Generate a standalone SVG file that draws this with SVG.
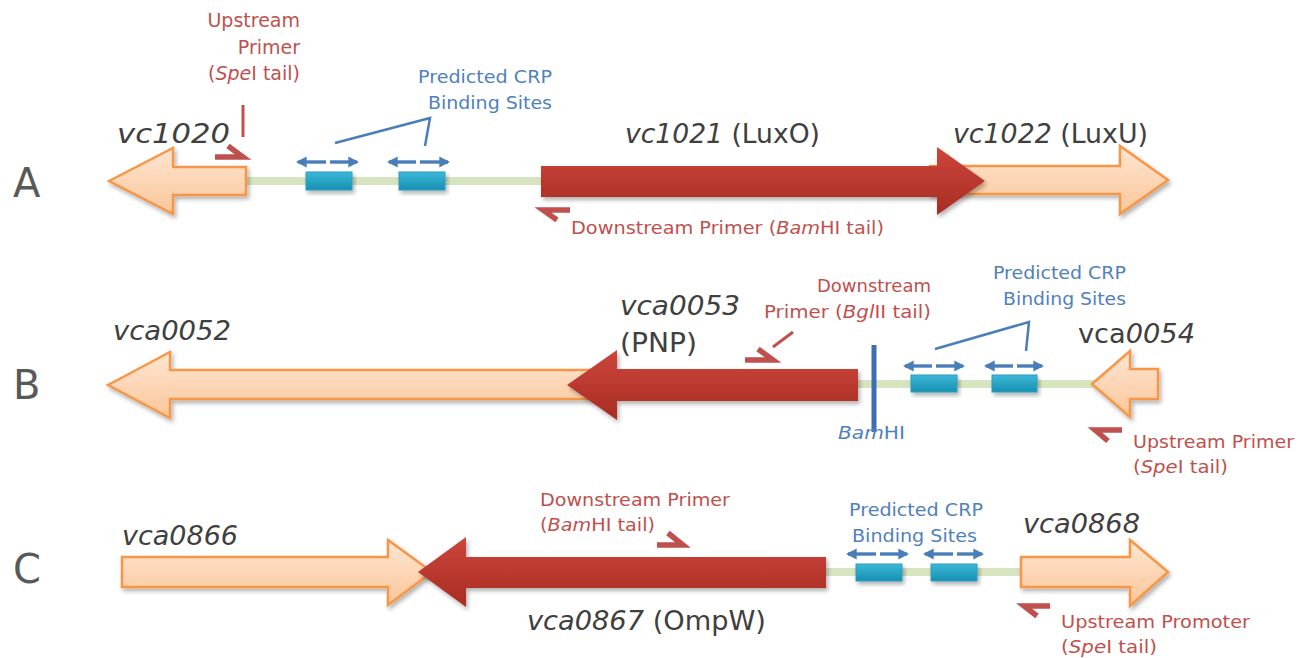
<svg xmlns="http://www.w3.org/2000/svg" width="1308" height="658" viewBox="0 0 1308 658">
<defs>
<linearGradient id="gOr" x1="0" y1="0" x2="0" y2="1"><stop offset="0" stop-color="#fee6d2"/><stop offset="1" stop-color="#fbc699"/></linearGradient>
<linearGradient id="gRed" x1="0" y1="0" x2="0" y2="1"><stop offset="0" stop-color="#cc463b"/><stop offset="1" stop-color="#a82c23"/></linearGradient>
<linearGradient id="gBox" x1="0" y1="0" x2="0" y2="1"><stop offset="0" stop-color="#3cb8d8"/><stop offset="1" stop-color="#178fb1"/></linearGradient>
<filter id="sh" x="-10%" y="-30%" width="120%" height="160%"><feDropShadow dx="2" dy="3" stdDeviation="2" flood-color="#000" flood-opacity="0.3"/></filter>
<marker id="ah" viewBox="0 0 10 10" refX="8" refY="5" markerWidth="3.2" markerHeight="3.6" orient="auto-start-reverse"><path d="M0,0 L10,5 L0,10 Z" fill="#4a7ebb"/></marker>
</defs>
<style>
.or{fill:url(#gOr);stroke:#f79646;stroke-width:2.5;filter:url(#sh)}
.red{fill:url(#gRed);filter:url(#sh)}
.box{fill:url(#gBox);stroke:#2a9ec0;stroke-width:1;filter:url(#sh)}
.dna{stroke:#d6e4bf;stroke-width:8;fill:none}
.dbl{stroke:#4a7ebb;stroke-width:3.4;fill:none;marker-end:url(#ah)}
.call{stroke:#4a7ebb;stroke-width:2.5;fill:none}
.hook{stroke:#c0504d;stroke-width:5.5;fill:none;stroke-linejoin:miter}
.rl{stroke:#c0504d;stroke-width:3;fill:none}
text{font-family:"DejaVu Sans","Liberation Sans",sans-serif}
.lt{font-size:40px;fill:#595959}
.gn{font-size:26px;fill:#404040}
.it{font-style:italic}
.rt{font-size:18px;fill:#c0504d}
.rt19{font-size:19px;fill:#c0504d}
.bt{font-size:18px;fill:#4f81bd}
</style>
<rect width="1308" height="658" fill="#fff"/>

<g id="letters">
<text class="lt" x="13" y="197">A</text>
<text class="lt" x="13" y="399">B</text>
<text class="lt" x="13" y="583">C</text>
</g>

<g id="connectors">
<line class="dna" x1="246" y1="181" x2="545" y2="181"/>
<line class="dna" x1="855" y1="384" x2="1095" y2="384"/>
<line class="dna" x1="822" y1="572" x2="1023" y2="572"/>
<polyline class="call" points="335,143 430,118 425,146"/>
<polyline class="call" points="935,349 1029,322 1026,351"/>
<line class="dbl" x1="326" y1="162" x2="298" y2="162"/>
<line class="dbl" x1="330" y1="162" x2="357" y2="162"/>
<line class="dbl" x1="416" y1="162" x2="389" y2="162"/>
<line class="dbl" x1="420" y1="162" x2="448" y2="162"/>
<line class="dbl" x1="932" y1="366" x2="905" y2="366"/>
<line class="dbl" x1="936" y1="366" x2="963" y2="366"/>
<line class="dbl" x1="1013" y1="366" x2="986" y2="366"/>
<line class="dbl" x1="1017" y1="366" x2="1042" y2="366"/>
<line class="dbl" x1="876" y1="554" x2="848" y2="554"/>
<line class="dbl" x1="880" y1="554" x2="907" y2="554"/>
<line class="dbl" x1="953" y1="554" x2="925" y2="554"/>
<line class="dbl" x1="957" y1="554" x2="982" y2="554"/>
<line class="rl" x1="243" y1="105" x2="243" y2="137"/>
<path class="hook" d="M215,157 L243,157 L228,146"/>
<path class="hook" d="M570,210 L543,210 L557,220"/>
<line class="rl" x1="793" y1="332" x2="773" y2="347"/>
<path class="hook" d="M745,360 L773,360 L758,349"/>
<path class="hook" d="M1122,430 L1095,430 L1108,441"/>
<path class="hook" d="M657,545 L683,545 L668,533"/>
<path class="hook" d="M1050,606 L1024,606 L1037,616"/>
<line x1="874" y1="345" x2="874" y2="432" stroke="#3f6fb0" stroke-width="5"/>
</g>

<g id="vc1020"><path class="or" d="M109,181 L173,148 L173,167 L246,167 L246,195 L173,195 L173,214 Z"/></g>
<g id="vc1022"><path class="or" d="M930,166 L1120,166 L1120,146 L1168,180 L1120,214 L1120,194 L930,194 Z"/></g>
<g id="vc1021"><path class="red" d="M541,166 L937,166 L937,147 L985,181 L937,215 L937,197 L541,197 Z"/></g>
<g id="crpA1"><rect class="box" x="306" y="172" width="46" height="18"/></g>
<g id="crpA2"><rect class="box" x="399" y="172" width="46" height="18"/></g>

<g id="vca0052"><path class="or" d="M108,385 L170,352 L170,370 L600,370 L600,399 L170,399 L170,418 Z"/></g>
<g id="vca0053"><path class="red" d="M567,385 L617,350 L617,369 L858,369 L858,401 L617,401 L617,420 Z"/></g>
<g id="vca0054"><path class="or" d="M1092,384 L1130,351 L1130,369 L1158,369 L1158,399 L1130,399 L1130,417 Z"/></g>
<g id="crpB1"><rect class="box" x="911" y="375" width="46" height="17"/></g>
<g id="crpB2"><rect class="box" x="992" y="375" width="45" height="17"/></g>

<g id="vca0866"><path class="or" d="M122,557 L388,557 L388,540 L432,572 L388,605 L388,587 L122,587 Z"/></g>
<g id="vca0867"><path class="red" d="M418,572 L466,537 L466,557 L826,557 L826,588 L466,588 L466,607 Z"/></g>
<g id="vca0868"><path class="or" d="M1021,557 L1130,557 L1130,540 L1168,572 L1130,606 L1130,587 L1021,587 Z"/></g>
<g id="crpC1"><rect class="box" x="856" y="564" width="46" height="17"/></g>
<g id="crpC2"><rect class="box" x="931" y="564" width="46" height="17"/></g>

<g id="labels">
<text class="rt19" text-anchor="end"><tspan x="300" y="27">Upstream</tspan><tspan x="300" y="54">Primer</tspan><tspan x="300" y="80">(<tspan class="it">Spe</tspan>I tail)</tspan></text>
<text class="bt" x="418" y="83" textLength="134" lengthAdjust="spacingAndGlyphs">Predicted  CRP</text>
<text class="bt" x="428" y="109" textLength="124" lengthAdjust="spacingAndGlyphs">Binding  Sites</text>
<text class="gn it" x="117" y="143" textLength="113" lengthAdjust="spacingAndGlyphs">vc1020</text>
<text class="gn" x="625" y="143" textLength="195" lengthAdjust="spacingAndGlyphs"><tspan class="it">vc1021</tspan> (LuxO)</text>
<text class="gn" x="953" y="143" textLength="195" lengthAdjust="spacingAndGlyphs"><tspan class="it">vc1022</tspan> (LuxU)</text>
<text class="rt" x="571" y="234" textLength="313" lengthAdjust="spacingAndGlyphs">Downstream Primer (<tspan class="it">Bam</tspan>HI tail)</text>

<text class="gn it" x="113" y="340" textLength="118" lengthAdjust="spacingAndGlyphs">vca0052</text>
<text class="gn it" x="620" y="315" textLength="120" lengthAdjust="spacingAndGlyphs">vca0053</text>
<text class="gn" x="620" y="352" textLength="77" lengthAdjust="spacingAndGlyphs">(PNP)</text>
<text class="rt" x="931" y="292" text-anchor="end">Downstream</text>
<text class="rt" x="764" y="318" textLength="167" lengthAdjust="spacingAndGlyphs">Primer (<tspan class="it">Bgl</tspan>II tail)</text>
<text class="bt" x="993" y="279" textLength="133" lengthAdjust="spacingAndGlyphs">Predicted  CRP</text>
<text class="bt" x="1003" y="305" textLength="123" lengthAdjust="spacingAndGlyphs">Binding  Sites</text>
<text class="gn" x="1078" y="343" textLength="117" lengthAdjust="spacingAndGlyphs">vca<tspan class="it">0054</tspan></text>
<text class="bt" x="838" y="439" font-size="17" textLength="67" lengthAdjust="spacingAndGlyphs"><tspan class="it">Bam</tspan>HI</text>
<text class="rt" x="1133" y="448" textLength="161" lengthAdjust="spacingAndGlyphs">Upstream Primer</text>
<text class="rt" x="1133" y="473" textLength="95" lengthAdjust="spacingAndGlyphs">(<tspan class="it">Spe</tspan>I tail)</text>

<text class="gn it" x="122" y="545" textLength="116" lengthAdjust="spacingAndGlyphs">vca0866</text>
<text class="rt" x="540" y="506" textLength="190" lengthAdjust="spacingAndGlyphs">Downstream Primer</text>
<text class="rt" x="540" y="531" textLength="115" lengthAdjust="spacingAndGlyphs">(<tspan class="it">Bam</tspan>HI tail)</text>
<text class="bt" x="849" y="516" textLength="134" lengthAdjust="spacingAndGlyphs">Predicted  CRP</text>
<text class="bt" x="852" y="542" textLength="125" lengthAdjust="spacingAndGlyphs">Binding  Sites</text>
<text class="gn it" x="1023" y="533" textLength="117" lengthAdjust="spacingAndGlyphs">vca0868</text>
<text class="gn" x="527" y="630" textLength="239" lengthAdjust="spacingAndGlyphs"><tspan class="it">vca0867</tspan> (OmpW)</text>
<text class="rt" x="1061" y="628" textLength="189" lengthAdjust="spacingAndGlyphs">Upstream Promoter</text>
<text class="rt" x="1061" y="653" textLength="96" lengthAdjust="spacingAndGlyphs">(<tspan class="it">Spe</tspan>I tail)</text>
</g>
</svg>
